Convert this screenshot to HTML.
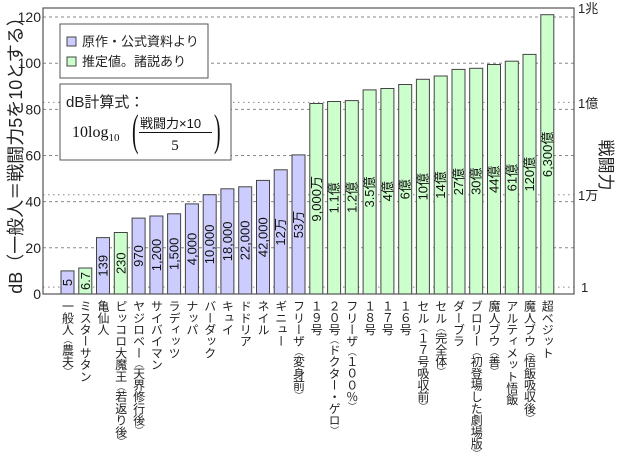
<!DOCTYPE html>
<html><head><meta charset="utf-8"><style>
html,body{margin:0;padding:0;background:#fff;overflow:hidden}
svg{display:block;font-family:"Liberation Sans","Noto Sans CJK JP",sans-serif}
.g{stroke:#888;stroke-width:1;stroke-dasharray:3,3;fill:none}
.d{stroke:#888;stroke-width:1;stroke-dasharray:1.5,3.5;fill:none}
.b{fill:#ccccff;stroke:#444;stroke-width:1}
.n{fill:#ccffcc;stroke:#444;stroke-width:1}
.v{font-size:13px;fill:#111;text-anchor:middle;dominant-baseline:central}
.x{font-size:12px;fill:#222;writing-mode:vertical-rl;letter-spacing:-0.3px}
.x tspan{font-size:9px}
.t{font-size:14px;fill:#222}
</style></head><body>
<svg width="620" height="454" viewBox="0 0 620 454" xmlns="http://www.w3.org/2000/svg">
<rect x="0" y="0" width="620" height="454" fill="#fff"/>
<g>
<line class="g" x1="43" x2="574" y1="247.8" y2="247.8"/>
<line class="g" x1="43" x2="574" y1="201.6" y2="201.6"/>
<line class="g" x1="43" x2="574" y1="155.5" y2="155.5"/>
<line class="g" x1="43" x2="574" y1="109.4" y2="109.4"/>
<line class="g" x1="43" x2="574" y1="63.2" y2="63.2"/>
<line class="g" x1="43" x2="574" y1="17" y2="17"/>
<line class="d" x1="43" x2="574" y1="287.1" y2="287.1"/>
<line class="d" x1="43" x2="574" y1="194.7" y2="194.7"/>
<line class="d" x1="43" x2="574" y1="102.4" y2="102.4"/>
</g>
<g>
<rect class="b" x="61" y="270.9" width="13" height="23.1"/>
<rect class="n" x="78.8" y="268" width="13" height="26"/>
<rect class="b" x="96.5" y="237.6" width="13" height="56.4"/>
<rect class="n" x="114.3" y="232.5" width="13" height="61.5"/>
<rect class="b" x="132.1" y="218.1" width="13" height="75.9"/>
<rect class="b" x="149.9" y="216" width="13" height="78"/>
<rect class="b" x="167.6" y="213.8" width="13" height="80.2"/>
<rect class="b" x="185.4" y="203.9" width="13" height="90.1"/>
<rect class="b" x="203.2" y="194.7" width="13" height="99.3"/>
<rect class="b" x="220.9" y="188.8" width="13" height="105.2"/>
<rect class="b" x="238.7" y="186.8" width="13" height="107.2"/>
<rect class="b" x="256.5" y="180.4" width="13" height="113.6"/>
<rect class="b" x="274.2" y="169.8" width="13" height="124.2"/>
<rect class="b" x="292" y="154.9" width="13" height="139.1"/>
<rect class="n" x="309.8" y="103.5" width="13" height="190.5"/>
<rect class="n" x="327.6" y="101.5" width="13" height="192.5"/>
<rect class="n" x="345.3" y="100.6" width="13" height="193.4"/>
<rect class="n" x="363.1" y="89.9" width="13" height="204.1"/>
<rect class="n" x="380.9" y="88.5" width="13" height="205.5"/>
<rect class="n" x="398.7" y="84.5" width="13" height="209.5"/>
<rect class="n" x="416.4" y="79.3" width="13" height="214.7"/>
<rect class="n" x="434.2" y="76" width="13" height="218"/>
<rect class="n" x="452" y="69.4" width="13" height="224.6"/>
<rect class="n" x="469.7" y="68.3" width="13" height="225.7"/>
<rect class="n" x="487.5" y="64.5" width="13" height="229.5"/>
<rect class="n" x="505.3" y="61.2" width="13" height="232.8"/>
<rect class="n" x="523" y="54.4" width="13" height="239.6"/>
<rect class="n" x="540.8" y="14.7" width="13" height="279.3"/>
</g>
<g>
<text class="v" transform="translate(67.5,282.5) rotate(-90)">5</text>
<text class="v" transform="translate(85.3,281) rotate(-90)">6.7</text>
<text class="v" transform="translate(103,265.8) rotate(-90)">139</text>
<text class="v" transform="translate(120.8,263.2) rotate(-90)">230</text>
<text class="v" transform="translate(138.6,256) rotate(-90)">970</text>
<text class="v" transform="translate(156.4,255) rotate(-90)">1,200</text>
<text class="v" transform="translate(174.1,253.9) rotate(-90)">1,500</text>
<text class="v" transform="translate(191.9,249) rotate(-90)">4,000</text>
<text class="v" transform="translate(209.7,244.4) rotate(-90)">10,000</text>
<text class="v" transform="translate(227.4,241.4) rotate(-90)">18,000</text>
<text class="v" transform="translate(245.2,240.4) rotate(-90)">22,000</text>
<text class="v" transform="translate(263,237.2) rotate(-90)">42,000</text>
<text class="v" transform="translate(280.7,231.9) rotate(-90)">12万</text>
<text class="v" transform="translate(298.5,224.5) rotate(-90)">53万</text>
<text class="v" transform="translate(316.3,198.8) rotate(-90)">9,000万</text>
<text class="v" transform="translate(334.1,197.8) rotate(-90)">1.1億</text>
<text class="v" transform="translate(351.8,197.3) rotate(-90)">1.2億</text>
<text class="v" transform="translate(369.6,192) rotate(-90)">3.5億</text>
<text class="v" transform="translate(387.4,191.3) rotate(-90)">4億</text>
<text class="v" transform="translate(405.2,189.3) rotate(-90)">6億</text>
<text class="v" transform="translate(422.9,186.7) rotate(-90)">10億</text>
<text class="v" transform="translate(440.7,185) rotate(-90)">14億</text>
<text class="v" transform="translate(458.5,181.7) rotate(-90)">27億</text>
<text class="v" transform="translate(476.2,181.2) rotate(-90)">30億</text>
<text class="v" transform="translate(494,179.3) rotate(-90)">44億</text>
<text class="v" transform="translate(511.8,177.6) rotate(-90)">61億</text>
<text class="v" transform="translate(529.5,174.2) rotate(-90)">120億</text>
<text class="v" transform="translate(547.3,154.4) rotate(-90)">6,300億</text>
</g>
<rect x="43" y="8" width="531" height="286" fill="none" stroke="#555" stroke-width="1.2"/>
<g class="t" text-anchor="end">
<text x="41" y="299">0</text>
<text x="41" y="252.8">20</text>
<text x="41" y="206.6">40</text>
<text x="41" y="160.5">60</text>
<text x="41" y="114.4">80</text>
<text x="41" y="68.2">100</text>
<text x="41" y="22">120</text>
</g>
<g style="font-size:13px;fill:#222">
<text x="581" y="292">1</text>
<text x="578" y="200">1万</text>
<text x="578" y="108">1億</text>
<text x="578" y="13">1兆</text>
</g>
<text transform="translate(22,151) rotate(-90)" text-anchor="middle" style="font-size:18px;fill:#222">dB（一般人＝戦闘力5を10とする）</text>
<text transform="translate(600,165) rotate(90)" text-anchor="middle" style="font-size:17px;fill:#222">戦闘力</text>
<rect x="60" y="24" width="148" height="54" fill="#fff" stroke="#555"/>
<rect x="67" y="37" width="9" height="9" fill="#ccccff" stroke="#444"/>
<text x="82" y="46" style="font-size:13px;fill:#222">原作・公式資料より</text>
<rect x="67" y="57" width="9" height="9" fill="#ccffcc" stroke="#444"/>
<text x="82" y="66" style="font-size:13px;fill:#222">推定値。諸説あり</text>
<rect x="60" y="84" width="171" height="76" fill="#fff" stroke="#555"/>
<text x="66" y="107" style="font-size:15px;fill:#222">dB計算式：</text>
<text x="72" y="137" style="font-family:'Liberation Serif',serif;font-size:16px;fill:#111">10log<tspan style="font-size:11px" dy="4">10</tspan></text>
<text x="132" y="145" style="font-family:'Liberation Serif',serif;font-size:44px;fill:#111" transform="translate(132,0) scale(0.45,1) translate(-132,0)">(</text>
<text x="140" y="128" style="font-size:13px;fill:#111">戦闘力×10</text>
<line x1="139" x2="212" y1="132.5" y2="132.5" stroke="#111" stroke-width="1"/>
<text x="175" y="150" text-anchor="middle" style="font-family:'Liberation Serif',serif;font-size:15px;fill:#111">5</text>
<text x="214" y="145" style="font-family:'Liberation Serif',serif;font-size:44px;fill:#111" transform="translate(214,0) scale(0.45,1) translate(-214,0)">)</text>
<g class="x">
<text x="67.5" y="300">一般人<tspan>（</tspan>農夫<tspan>）</tspan></text>
<text x="85.3" y="300">ミスターサタン</text>
<text x="103" y="300">亀仙人</text>
<text x="120.8" y="300">ピッコロ大魔王<tspan>（</tspan>若返り後<tspan>）</tspan></text>
<text x="138.6" y="300">ヤジロベー<tspan>（</tspan>天界修行後<tspan>）</tspan></text>
<text x="156.4" y="300">サイバイマン</text>
<text x="174.1" y="300">ラディッツ</text>
<text x="191.9" y="300">ナッパ</text>
<text x="209.7" y="300">バーダック</text>
<text x="227.4" y="300">キュイ</text>
<text x="245.2" y="300">ドドリア</text>
<text x="263" y="300">ネイル</text>
<text x="280.7" y="300">ギニュー</text>
<text x="298.5" y="300">フリーザ<tspan>（</tspan>変身前<tspan>）</tspan></text>
<text x="316.3" y="300">１９号</text>
<text x="334.1" y="300">２０号<tspan>（</tspan>ドクター・ゲロ<tspan>）</tspan></text>
<text x="351.8" y="300">フリーザ<tspan>（</tspan>１００％<tspan>）</tspan></text>
<text x="369.6" y="300">１８号</text>
<text x="387.4" y="300">１７号</text>
<text x="405.2" y="300">１６号</text>
<text x="422.9" y="300">セル<tspan>（</tspan>１７号吸収前<tspan>）</tspan></text>
<text x="440.7" y="300">セル<tspan>（</tspan>完全体<tspan>）</tspan></text>
<text x="458.5" y="300">ダーブラ</text>
<text x="476.2" y="300">ブロリー<tspan>（</tspan>初登場した劇場版<tspan>）</tspan></text>
<text x="494" y="300">魔人ブウ<tspan>（</tspan>善<tspan>）</tspan></text>
<text x="511.8" y="300">アルティメット悟飯</text>
<text x="529.5" y="300">魔人ブウ<tspan>（</tspan>悟飯吸収後<tspan>）</tspan></text>
<text x="547.3" y="300">超ベジット</text>
</g>
</svg>
</body></html>
